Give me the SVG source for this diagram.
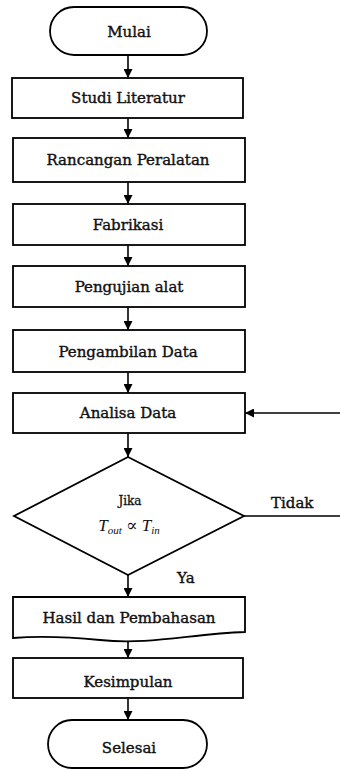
<svg xmlns="http://www.w3.org/2000/svg" width="340" height="769" viewBox="0 0 340 769">
<defs>
<style>
.n{fill:#fff;stroke:#000;stroke-width:1.8}
.t{font-family:"DejaVu Serif","Liberation Serif",serif;font-size:15px;fill:#111;stroke:#111;stroke-width:0.4;text-anchor:middle}
.c{fill:none;stroke:#000;stroke-width:1.6}
.l{font-family:"DejaVu Serif","Liberation Serif",serif;font-size:15px;fill:#111;stroke:#111;stroke-width:0.4}
</style>
<marker id="ah" viewBox="0 0 10 10" refX="10" refY="5" markerWidth="9" markerHeight="9" markerUnits="userSpaceOnUse" orient="auto">
<path d="M0,0 L10,5 L0,10 Z" fill="#000"/>
</marker>
</defs>
<rect width="340" height="769" fill="#fff"/>
<g id="connectors">
<line class="c" x1="128" y1="55" x2="128" y2="78" marker-end="url(#ah)"/>
<line class="c" x1="128" y1="118" x2="128" y2="138" marker-end="url(#ah)"/>
<line class="c" x1="128" y1="182" x2="128" y2="204" marker-end="url(#ah)"/>
<line class="c" x1="128" y1="245" x2="128" y2="266" marker-end="url(#ah)"/>
<line class="c" x1="128" y1="307" x2="128" y2="330" marker-end="url(#ah)"/>
<line class="c" x1="128" y1="372" x2="128" y2="393" marker-end="url(#ah)"/>
<line class="c" x1="128" y1="433" x2="128" y2="457" marker-end="url(#ah)"/>
<line class="c" x1="128" y1="575" x2="128" y2="597" marker-end="url(#ah)"/>
<line class="c" x1="128" y1="639" x2="128" y2="658" marker-end="url(#ah)"/>
<line class="c" x1="128" y1="698" x2="128" y2="720" marker-end="url(#ah)"/>
<path class="c" d="M244,516 H342 V413 H245" marker-end="url(#ah)"/>
<text class="l" x="271" y="508">Tidak</text>
<text class="l" x="177" y="583">Ya</text>
</g>
<g id="mulai"><rect class="n" x="50" y="7" width="157" height="48" rx="24"/><text class="t" x="129" y="37">Mulai</text></g>
<g id="studi"><rect class="n" x="12" y="78" width="231" height="40"/><text class="t" x="128" y="103">Studi Literatur</text></g>
<g id="rancangan"><rect class="n" x="13" y="138" width="232" height="44"/><text class="t" x="128" y="165">Rancangan Peralatan</text></g>
<g id="fabrikasi"><rect class="n" x="13" y="204" width="232" height="41"/><text class="t" x="128" y="230">Fabrikasi</text></g>
<g id="pengujian"><rect class="n" x="13" y="266" width="232" height="41"/><text class="t" x="129" y="292">Pengujian alat</text></g>
<g id="pengambilan"><rect class="n" x="13" y="330" width="232" height="42"/><text class="t" x="128" y="357">Pengambilan Data</text></g>
<g id="analisa"><rect class="n" x="13" y="393" width="232" height="40"/><text class="t" x="128" y="418">Analisa Data</text></g>
<g id="keputusan"><polygon class="n" points="128,457 244,516 128,575 14,516"/>
<text x="130" y="505" style="font-family:'DejaVu Serif','Liberation Serif',serif;font-size:12px;fill:#111;stroke:#111;stroke-width:0.3;text-anchor:middle">Jika</text>
<text x="129" y="531" style="font-family:'Liberation Serif','DejaVu Serif',serif;font-size:17px;fill:#111;text-anchor:middle"><tspan font-style="italic">T</tspan><tspan font-style="italic" font-size="11" dy="3">out</tspan><tspan dy="-3"> ∝ </tspan><tspan font-style="italic">T</tspan><tspan font-style="italic" font-size="11" dy="3">in</tspan></text>
</g>
<g id="hasil"><path class="n" d="M13,597 H245 V632 C190,634 150,645 100,640 C60,636 35,636 13,638 Z"/><text class="t" x="129" y="623">Hasil dan Pembahasan</text></g>
<g id="kesimpulan"><rect class="n" x="13" y="658" width="230" height="40"/><text class="t" x="128" y="687">Kesimpulan</text></g>
<g id="selesai"><rect class="n" x="48" y="720" width="159" height="48" rx="24"/><text class="t" x="129" y="753">Selesai</text></g>
</svg>
